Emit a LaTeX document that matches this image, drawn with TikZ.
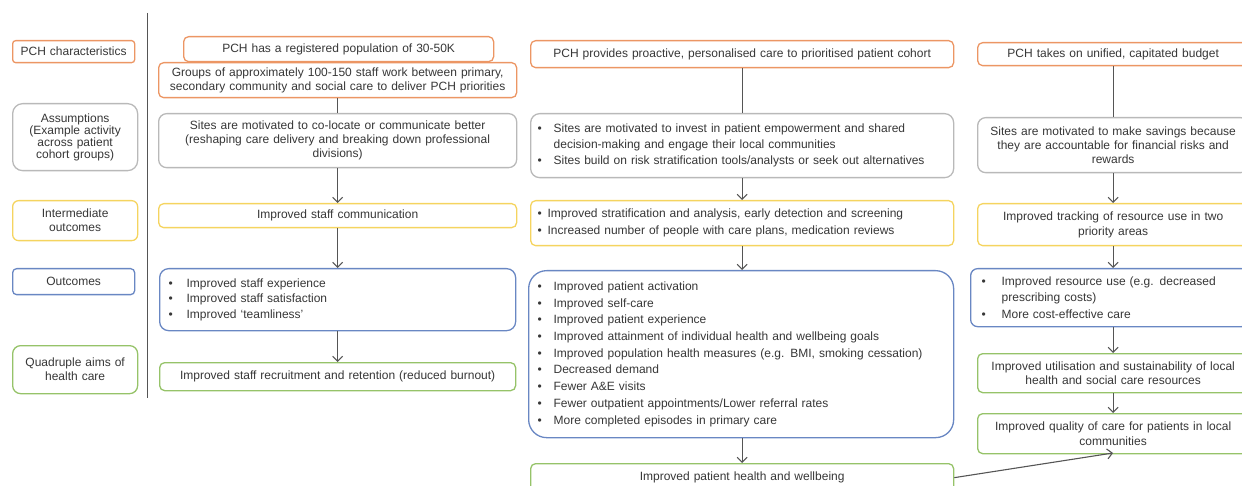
\documentclass[tikz,border=0pt]{standalone}
\usepackage{fontspec}
\setmainfont{Liberation Sans}
\usetikzlibrary{arrows.meta,calc}
\definecolor{cor}{RGB}{236,150,100}
\definecolor{cgr}{RGB}{185,185,185}
\definecolor{cye}{RGB}{245,212,95}
\definecolor{cbl}{RGB}{105,135,195}
\definecolor{cgn}{RGB}{150,195,105}
\definecolor{ctx}{RGB}{55,55,55}
\definecolor{cln}{RGB}{85,85,85}
\newcommand\bxx[8]{%
  \pgfmathsetmacro\bxw{#5-#3}\pgfmathsetmacro\bxh{#6-#4}\pgfmathsetmacro\bxt{#5-#3-2*#7}%
  \node[box,#1,minimum width=\bxw pt,minimum height=\bxh pt,inner xsep=#7pt,text width=\bxt pt] (#2) at (#3,#4) {#8};}
\newcommand\bi[2]{\mbox{\makebox[#1][l]{\textbullet}#2}}
\newcommand\bc[2]{\mbox{\hspace*{#1}#2}}
\tikzset{
  box/.style={draw, line width=1.3pt, rounded corners=5pt, anchor=north west, inner ysep=0pt,
    text=ctx, fill=white, align=center, font=\fontsize{12}{14}\selectfont},
  lst/.style={align=left, font=\fontsize{12}{15.7}\selectfont},
  ln/.style={draw=cln, line width=1.1pt},
  arr/.style={ln, -{Straight Barb[length=5pt,width=10pt]}},
}
\begin{document}
\begin{tikzpicture}[x=1pt,y=-1pt]
\useasboundingbox (0,0) rectangle (1242,486);
\clip (0,0) rectangle (1242,486);
% left labels
\bxx{draw=cor,rounded corners=3pt}{L1}{12}{40}{134}{62}{2}{PCH characteristics}
\bxx{draw=cgr,rounded corners=10pt,font=\fontsize{12}{12}\selectfont}{L2}{12}{103}{137}{170}{2}{Assumptions\\(Example activity\\across patient\\cohort groups)}
\bxx{draw=cye,rounded corners=6pt}{L3}{12}{200}{137}{240}{2}{Intermediate\\outcomes}
\bxx{draw=cbl,rounded corners=4pt}{L4}{12}{268}{134}{294}{2}{Outcomes}
\bxx{draw=cgn,rounded corners=8pt}{L5}{12}{345}{137}{393}{2}{Quadruple aims of\\health care}
\draw[cln, line width=1pt] (147,13) -- (147,398);
% column 1
\bxx{draw=cor}{A1}{183}{36}{493}{61}{3}{PCH has a registered population of 30-50K}
\bxx{draw=cor,font=\fontsize{12}{13.5}\selectfont}{A1b}{158}{62}{516}{97}{2}{Groups of approximately 100-150 staff work between primary,\\secondary community and social care to deliver PCH priorities}
\bxx{draw=cgr,rounded corners=8pt}{B1}{158}{113}{516}{167}{3}{Sites are motivated to co-locate or communicate better\\(reshaping care delivery and breaking down professional\\divisions)}
\bxx{draw=cye}{C1}{158}{203}{516}{227}{3}{Improved staff communication}
\bxx{draw=cbl,lst,rounded corners=9pt}{D1}{159}{268}{515}{330}{9}{\bi{18pt}{Improved staff experience}\\\bi{18pt}{Improved staff satisfaction}\\\bi{18pt}{Improved `teamliness'}}
\bxx{draw=cgn}{E1}{159}{362}{515}{390}{3}{Improved staff recruitment and retention (reduced burnout)}
% column 2
\bxx{draw=cor}{A2}{530}{40}{953}{67}{3}{PCH provides proactive, personalised care to prioritised patient cohort}
\bxx{draw=cgr,lst,rounded corners=9pt,font=\fontsize{12}{16}\selectfont}{B2}{530}{113}{953}{177}{7}{\bi{16pt}{Sites are motivated to invest in patient empowerment and shared}\\\bc{16pt}{decision-making and engage their local communities}\\\bi{16pt}{Sites build on risk stratification tools/analysts or seek out alternatives}}
\bxx{draw=cye,lst,font=\fontsize{12}{17}\selectfont}{C2}{530}{200}{953}{245}{7}{\bi{10pt}{Improved stratification and analysis, early detection and screening}\\\bi{10pt}{Increased number of people with care plans, medication reviews}}
\bxx{draw=cbl,lst,rounded corners=18pt,font=\fontsize{12}{16.7}\selectfont}{D2}{528}{270}{953}{437}{9}{\bi{16pt}{Improved patient activation}\\\bi{16pt}{Improved self-care}\\\bi{16pt}{Improved patient experience}\\\bi{16pt}{Improved attainment of individual health and wellbeing goals}\\\bi{16pt}{Improved population health measures (e.g. BMI, smoking cessation)}\\\bi{16pt}{Decreased demand}\\\bi{16pt}{Fewer A\&E visits}\\\bi{16pt}{Fewer outpatient appointments/Lower referral rates}\\\bi{16pt}{More completed episodes in primary care}}
\bxx{draw=cgn}{E2}{530}{463}{953}{491}{3}{Improved patient health and wellbeing}
% column 3
\bxx{draw=cor}{A3}{977}{42}{1248}{65}{3}{PCH takes on unified, capitated budget}
\bxx{draw=cgr,rounded corners=8pt}{B3}{977}{117}{1248}{172}{3}{Sites are motivated to make savings because\\they are accountable for financial risks and\\rewards}
\bxx{draw=cye,font=\fontsize{12}{15}\selectfont}{C3}{977}{203}{1248}{245}{3}{Improved tracking of resource use in two\\priority areas}
\bxx{draw=cbl,lst,rounded corners=7pt,font=\fontsize{12}{16.5}\selectfont}{D3}{970}{268}{1248}{326}{11}{\bi{20pt}{Improved resource use (e.g. decreased}\\\bc{20pt}{prescribing costs)}\\\bi{20pt}{More cost-effective care}}
\bxx{draw=cgn,font=\fontsize{12}{13.5}\selectfont}{E3}{977}{353}{1248}{392}{3}{Improved utilisation and sustainability of local\\health and social care resources}
\bxx{draw=cgn,font=\fontsize{12}{15}\selectfont}{F3}{977}{413}{1248}{453}{3}{Improved quality of care for patients in local\\communities}
% connectors
\draw[ln] (A1b.south) -- (B1.north);
\draw[arr] (B1.south) -- (C1.north);
\draw[arr] (C1.south) -- (D1.north);
\draw[arr] (D1.south) -- (E1.north);
\draw[ln] (A2.south) -- (B2.north);
\draw[arr] (B2.south) -- (C2.north);
\draw[arr] (C2.south) -- (C2.south |- D2.north);
\draw[arr] (C2.south |- D2.south) -- (E2.north);
\draw[ln] (A3.south) -- (B3.north);
\draw[arr] (B3.south) -- (C3.north);
\draw[arr] (C3.south) -- (C3.south |- D3.north);
\draw[arr] (C3.south |- D3.south) -- (E3.north);
\draw[arr] (E3.south) -- (F3.north);
\coordinate (t) at (1113,453);
\draw[arr] (E2.east) -- (t);
\end{tikzpicture}
\end{document}
